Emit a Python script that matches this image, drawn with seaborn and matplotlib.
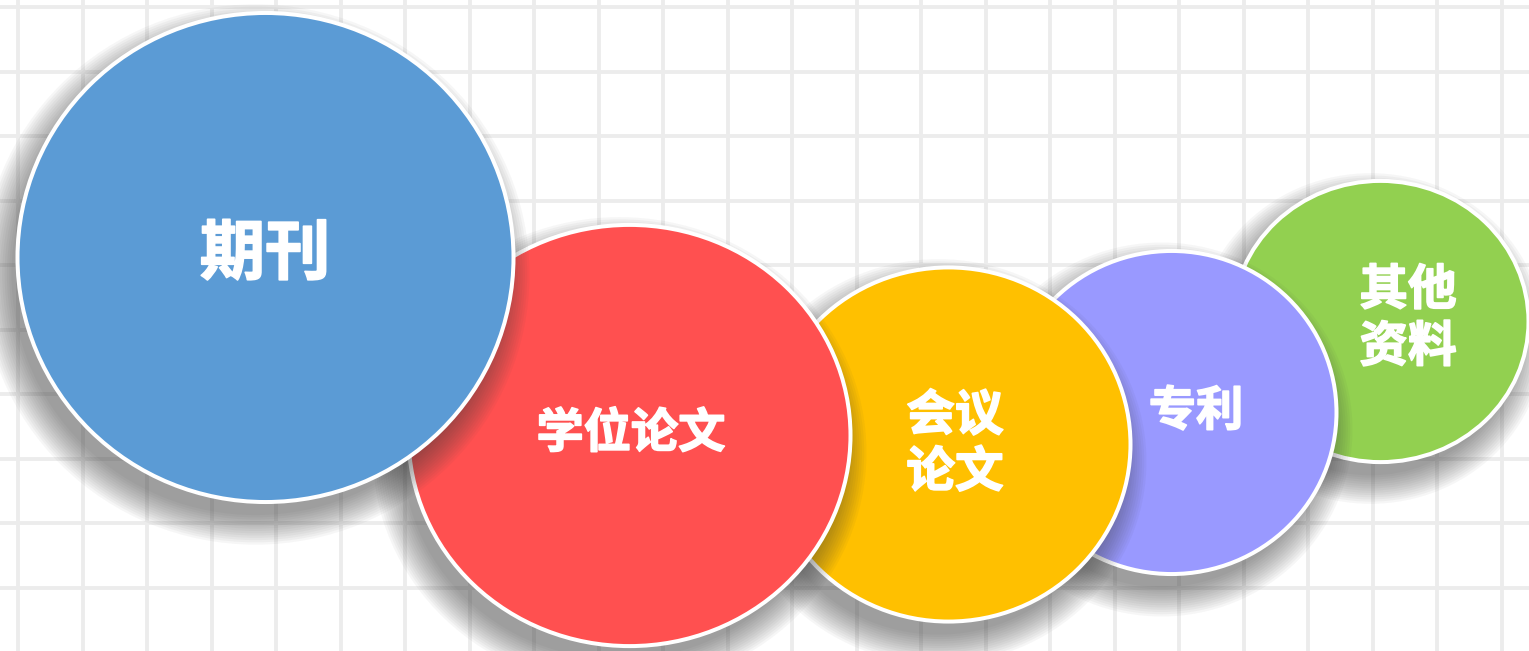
import numpy as np
import pandas as pd
import seaborn as sns
import matplotlib.pyplot as plt
import matplotlib.patheffects as pe
from matplotlib.path import Path
from matplotlib.transforms import Affine2D

# categories and bubble geometry (canvas pixel units)
labels = ['期刊', '学位论文', '会议\n论文', '专利', '其他\n资料']
center_x = [265, 629, 948, 1171, 1380]
center_y = [256.5, 434.5, 444, 411.5, 320.5]
half_width = [250, 223, 184, 167, 150]
half_height = [246.5, 212.5, 179, 163.5, 142.5]
colors = ['#5B9BD5', '#FF5050', '#FFC000', '#9999FF', '#92D050']

# text styling
font_sizes = [47, 34, 35, 34, 35]
text_dx = [0, 2, 7, 25, 28]
text_dy = [-2, -1, 0, 0, -2]

W, H, DPI = 1529, 651, 100
border = 4  # white ring, px
px2pt = 72 / DPI

sns.set_style("whitegrid", {"grid.color": "#ececec"})
plt.rcParams['font.family'] = ['Noto Sans CJK SC', 'DejaVu Sans']

fig = plt.figure(figsize=(W / DPI, H / DPI), dpi=DPI)
ax = fig.add_axes([0, 0, 1, 1])
ax.set_xlim(0, W)
ax.set_ylim(H, 0)

# graph-paper grid
ax.set_xticks(np.arange(18, W, 64.5))
ax.set_yticks(np.arange(7, H, 64.5))
ax.grid(True, color='#ececec', linewidth=2.8)
ax.tick_params(length=0, labelbottom=False, labelleft=False)
for s in ax.spines.values():
    s.set_visible(False)

df = pd.DataFrame({'label': labels, 'x': center_x, 'y': center_y,
                   'rx': half_width, 'ry': half_height, 'color': colors})


def oval(aspect):
    # slightly wide ellipse marker (width normalised to marker size)
    return Path.unit_circle().transformed(Affine2D().scale(aspect, 1))


# draw from right to left so the left bubble sits on top
for i in reversed(range(len(df))):
    row = df.iloc[i]
    one = df.iloc[[i]]
    mk = oval(row.rx / row.ry)
    # soft drop shadow: stacked translucent ovals
    n = 14
    sh = one.assign(x=row.x - 10, y=row.y + 17)
    for k in range(n):
        grow = 24 - 30 * k / (n - 1)
        sns.scatterplot(data=sh, x='x', y='y', ax=ax, color='#3a3a3a',
                        marker=mk, s=(2 * (row.rx + grow) * px2pt) ** 2,
                        alpha=0.045, linewidth=0, legend=False)
    sns.scatterplot(data=one, x='x', y='y', ax=ax, color=row.color,
                    marker=mk, s=((2 * row.rx - border) * px2pt) ** 2,
                    edgecolor='white', linewidth=border * px2pt, legend=False)
    ax.text(row.x + text_dx[i], row.y + text_dy[i], row.label,
            ha='center', va='center', color='white',
            fontsize=font_sizes[i], fontweight='bold', linespacing=1.2,
            path_effects=[pe.withStroke(linewidth=1.2, foreground='white')])

ax.set_xlabel('')
ax.set_ylabel('')
fig.savefig('out.png', dpi=DPI)
